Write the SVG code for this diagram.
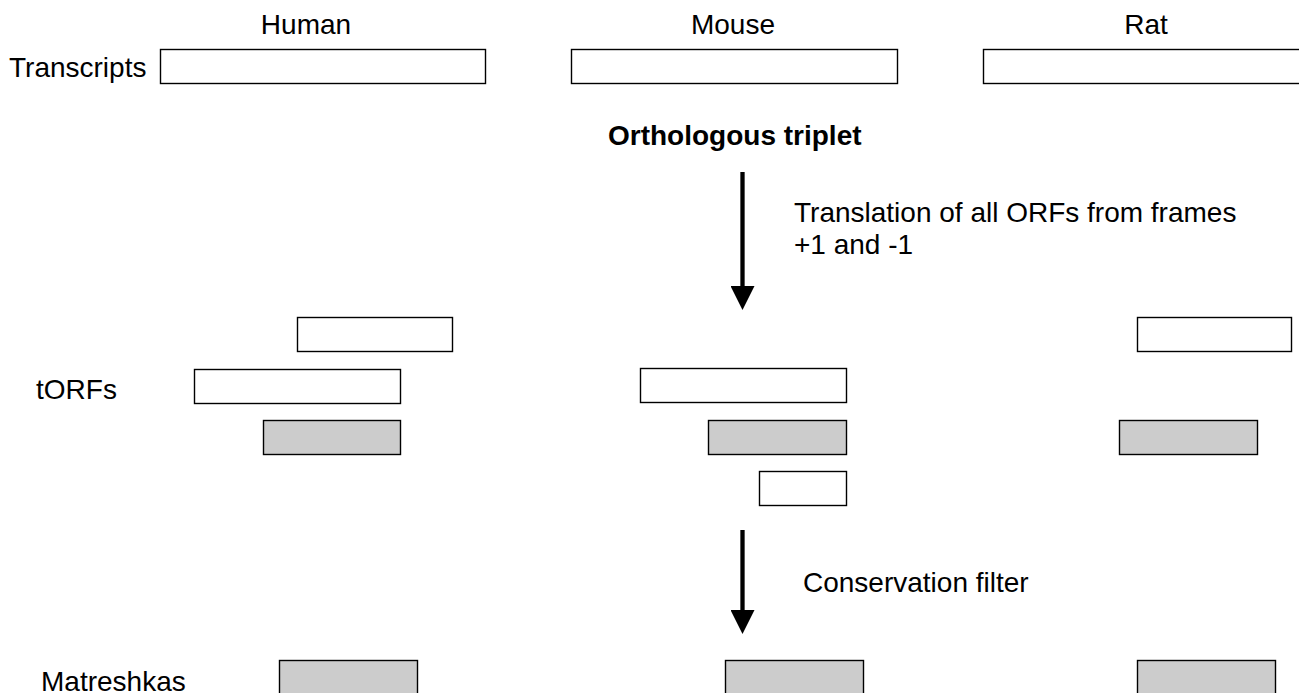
<svg xmlns="http://www.w3.org/2000/svg" width="1299" height="693" viewBox="0 0 1299 693">
  <style>
    text { font-family: "Liberation Sans", Arial, sans-serif; font-size: 28px; fill: #000; }
    .bold { font-weight: bold; }
    .box { fill: #ffffff; stroke: #000; stroke-width: 1.4; }
    .gbox { fill: #cccccc; stroke: #000; stroke-width: 1.4; }
    .arrow { stroke: #000; stroke-width: 4.3; fill: none; marker-end: url(#head); }
  </style>
  <defs>
    <marker id="head" markerUnits="userSpaceOnUse" markerWidth="24" markerHeight="24" viewBox="0 0 23 23" refX="0" refY="11.5" orient="auto">
      <path d="M0,0 L23,11.5 L0,23 Z" fill="#000"/>
    </marker>
  </defs>
  <rect width="1299" height="693" fill="#fff"/>

  <g id="labels">
    <text x="306" y="34" text-anchor="middle">Human</text>
    <text x="733" y="34" text-anchor="middle">Mouse</text>
    <text x="1146" y="34" text-anchor="middle">Rat</text>
    <text x="9" y="77">Transcripts</text>
    <text x="608" y="145" class="bold">Orthologous triplet</text>
    <text x="36" y="399">tORFs</text>
    <text x="41" y="691">Matreshkas</text>
  </g>

  <g id="transcripts">
    <rect class="box" x="160.5" y="49.5" width="325" height="34"/>
    <rect class="box" x="571.5" y="49.5" width="326" height="34"/>
    <rect class="box" x="983.5" y="49.5" width="330" height="34"/>
  </g>

  <g id="torfs-human">
    <rect class="box" x="297.5" y="317.5" width="155" height="34"/>
    <rect class="box" x="194.5" y="369.5" width="206" height="34"/>
    <rect class="gbox" x="263.5" y="420.5" width="137" height="34"/>
  </g>
  <g id="torfs-mouse">
    <rect class="box" x="640.5" y="368.5" width="206" height="34"/>
    <rect class="gbox" x="708.5" y="420.5" width="138" height="34"/>
    <rect class="box" x="759.5" y="471.5" width="87" height="34"/>
  </g>
  <g id="torfs-rat">
    <rect class="box" x="1137.5" y="317.5" width="154" height="34"/>
    <rect class="gbox" x="1119.5" y="420.5" width="138" height="34"/>
  </g>

  <g id="matreshkas">
    <rect class="gbox" x="279.5" y="660.5" width="138" height="34"/>
    <rect class="gbox" x="725.5" y="660.5" width="138" height="34"/>
    <rect class="gbox" x="1137.5" y="660.5" width="138" height="34"/>
  </g>

  <g id="connectors">
    <line class="arrow" x1="742.5" y1="172" x2="742.5" y2="286"/>
    <line class="arrow" x1="742.5" y1="530" x2="742.5" y2="610"/>
    <text x="794" y="222">Translation of all ORFs from frames</text>
    <text x="794" y="254">+1 and -1</text>
    <text x="803" y="592">Conservation filter</text>
  </g>
</svg>
